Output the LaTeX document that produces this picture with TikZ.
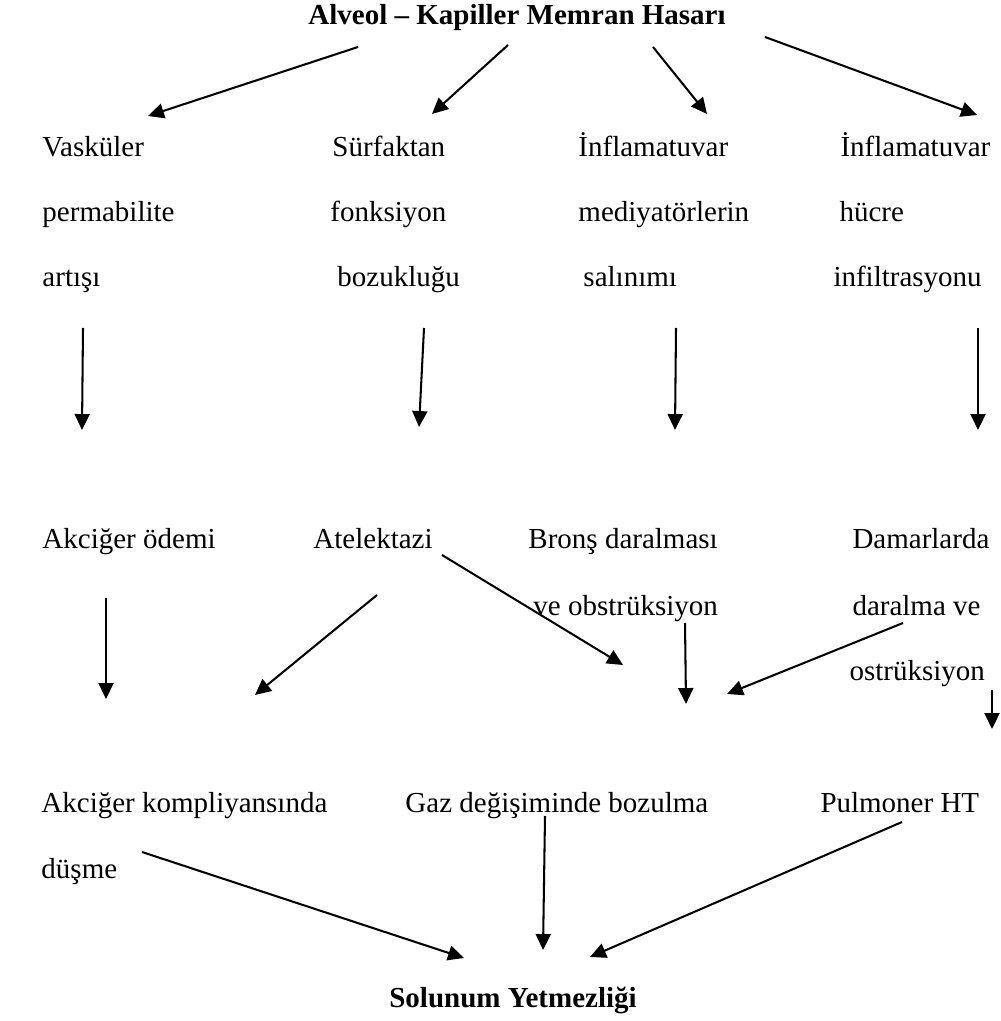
\documentclass[tikz,border=0pt]{standalone}
\usepackage{fontspec}
\setmainfont{Liberation Serif}
\usetikzlibrary{arrows.meta}

\begin{document}
\begin{tikzpicture}[x=0.4138pt,y=-0.4138pt,font=\fontsize{12}{14}\selectfont,
      t/.style={anchor=base west,inner sep=0pt},
      hd/.style={anchor=base,inner sep=0pt,font=\fontsize{12}{14}\selectfont\bfseries},
      ar/.style={-{Triangle[length=6.6pt,width=6.2pt]},line width=0.85pt}]
    \useasboundingbox (0,0) rectangle (1000,1021);

    % title and four causes
    \node[hd] (top) at (517,25) {Alveol – Kapiller Memran Hasarı};
    \node[t] (vas1) at (42,157) {Vasküler};
    \node[t] (vas2) at (42,222) {permabilite};
    \node[t] (vas3) at (42,287) {artışı};
    \node[t] (sur1) at (332,157) {Sürfaktan};
    \node[t] (sur2) at (330,222) {fonksiyon};
    \node[t] (sur3) at (337,287) {bozukluğu};
    \node[t] (med1) at (578,157) {İnflamatuvar};
    \node[t] (med2) at (578,222) {mediyatörlerin};
    \node[t] (med3) at (583,287) {salınımı};
    \node[t] (hcr1) at (840,157) {İnflamatuvar};
    \node[t] (hcr2) at (839,222) {hücre};
    \node[t] (hcr3) at (833,287) {infiltrasyonu};

    % second level
    \node[t] (odem) at (42,548) {Akciğer ödemi};
    \node[t] (atel) at (313,548) {Atelektazi};
    \node[t] (bron1) at (528,548) {Bronş daralması};
    \node[t] (bron2) at (533,615) {ve obstrüksiyon};
    \node[t] (dam1) at (852,548) {Damarlarda};
    \node[t] (dam2) at (852,615) {daralma ve};
    \node[t] (dam3) at (849,680) {ostrüksiyon};

    % third level and result
    \node[t] (komp1) at (41,812) {Akciğer kompliyansında};
    \node[t] (komp2) at (41,878) {düşme};
    \node[t] (gaz) at (405,812) {Gaz değişiminde bozulma};
    \node[t] (pht) at (820,812) {Pulmoner HT};
    \node[hd] (sy) at (513,1007) {Solunum Yetmezliği};

    % arrow ends
    \coordinate (a1) at (358,47);  \coordinate (b1) at (148,116);
    \coordinate (a2) at (508,45);  \coordinate (b2) at (432,114);
    \coordinate (a3) at (653,47);  \coordinate (b3) at (707,114);
    \coordinate (a4) at (765,37);  \coordinate (b4) at (977,115);
    \coordinate (c1) at (83,328);  \coordinate (d1) at (82,430);
    \coordinate (c2) at (424,328); \coordinate (d2) at (419,427);
    \coordinate (c3) at (676,328); \coordinate (d3) at (675,430);
    \coordinate (c4) at (978,328); \coordinate (d4) at (978,430);
    \coordinate (e1) at (106,598); \coordinate (f1) at (106,699);
    \coordinate (e2) at (377,595); \coordinate (f2) at (255,695);
    \coordinate (e3) at (442,555); \coordinate (f3) at (623,665);
    \coordinate (e4) at (685,623); \coordinate (f4) at (686,704);
    \coordinate (e5) at (903,623); \coordinate (f5) at (727,694);
    \coordinate (e6) at (992,690); \coordinate (f6) at (992,729);
    \coordinate (g1) at (142,852); \coordinate (k1) at (464,958);
    \coordinate (g2) at (545,816); \coordinate (k2) at (543,950);
    \coordinate (g3) at (902,822); \coordinate (k3) at (590,957);

    \foreach \s/\e in {a1/b1,a2/b2,a3/b3,a4/b4,c1/d1,c2/d2,c3/d3,c4/d4,
                       e1/f1,e2/f2,e3/f3,e4/f4,e5/f5,e6/f6,g1/k1,g2/k2,g3/k3}
      \draw[ar] (\s) -- (\e);
\end{tikzpicture}
\end{document}
